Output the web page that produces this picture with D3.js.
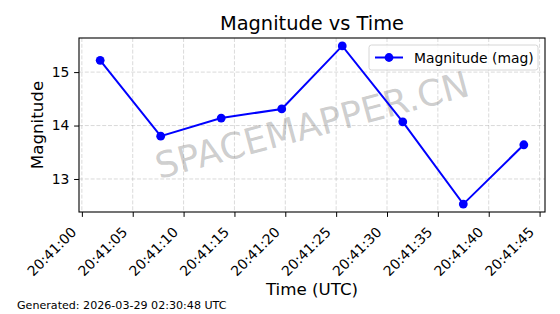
<!DOCTYPE html>
<html>
<head>
<meta charset="utf-8">
<script src="https://cdn.jsdelivr.net/npm/d3@7"></script>
<style>
  html, body { margin: 0; padding: 0; background: #fff; }
  svg { display: block; font-family: 'DejaVu Sans', sans-serif; }
  .grid line { stroke: #b0b0b0; stroke-opacity: 0.6; stroke-width: 0.8; stroke-dasharray: 4,1.8; }
</style>
</head>
<body>
<div id="chart"></div>
<script>
const times = ['20:41:01.800', '20:41:07.750', '20:41:13.700', '20:41:19.650',
  '20:41:25.600', '20:41:31.550', '20:41:37.500', '20:41:43.450']
const magnitudes = [15.22, 13.80, 14.14, 14.31, 15.49, 14.07, 12.53, 13.64]
const yTicks = [13, 14, 15]
const title = 'Magnitude vs Time'
const seriesName = 'Magnitude (mag)'
const generatedText = 'Generated: 2026-03-29 02:30:48 UTC'
const watermark = 'SPACEMAPPER.CN'

const parseTime = d3.utcParse('%H:%M:%S.%L')
const data = times.map((t, i) => ({ t: parseTime(t), v: magnitudes[i] }))

const width = 560
const height = 314
const margin = { top: 38, right: 15, bottom: 102, left: 79 }

// matplotlib-style 5% padding around the data
function padded (ext) {
  const span = ext[1] - ext[0]
  return [+ext[0] - span * 0.05, +ext[1] + span * 0.05]
}

const xExt = padded(d3.extent(data, d => d.t))
const x = d3.scaleUtc()
  .domain([new Date(xExt[0]), new Date(xExt[1])])
  .range([margin.left, width - margin.right])

const y = d3.scaleLinear()
  .domain(padded(d3.extent(data, d => d.v)))
  .range([height - margin.bottom, margin.top])

const xTickVals = x.ticks(d3.utcSecond.every(5))
const fmt = d3.utcFormat('%H:%M:%S')

const svg = d3.select('#chart').append('svg')
  .attr('width', width)
  .attr('height', height)

// grid
const grid = svg.append('g').attr('class', 'grid')
grid.selectAll('.gx').data(xTickVals).join('line')
  .attr('x1', d => x(d)).attr('x2', d => x(d))
  .attr('y1', margin.top).attr('y2', height - margin.bottom)
grid.selectAll('.gy').data(yTicks).join('line')
  .attr('x1', margin.left).attr('x2', width - margin.right)
  .attr('y1', d => y(d)).attr('y2', d => y(d))

// watermark
svg.append('text')
  .attr('transform', `translate(${(margin.left + width - margin.right) / 2},${(margin.top + height - margin.bottom) / 2}) rotate(-15)`)
  .attr('text-anchor', 'middle')
  .attr('dominant-baseline', 'central')
  .attr('font-size', 36)
  .attr('fill', '#808080')
  .attr('fill-opacity', 0.4)
  .text(watermark)

// line + markers
const line = d3.line().x(d => x(d.t)).y(d => y(d.v))
svg.append('path')
  .datum(data)
  .attr('fill', 'none')
  .attr('stroke', '#0000ff')
  .attr('stroke-width', 2)
  .attr('d', line)
svg.selectAll('.pt').data(data).join('circle')
  .attr('cx', d => x(d.t))
  .attr('cy', d => y(d.v))
  .attr('r', 4.4)
  .attr('fill', '#0000ff')

// axes
const xAxis = d3.axisBottom(x)
  .tickValues(xTickVals)
  .tickFormat(fmt)
  .tickSize(4.9)
  .tickSizeOuter(0)
const gx = svg.append('g')
  .attr('transform', `translate(0,${height - margin.bottom})`)
  .call(xAxis)
gx.select('.domain').remove()
gx.selectAll('.tick line').attr('stroke', '#000').attr('stroke-width', 1)
gx.selectAll('.tick text')
  .attr('font-size', 13.9)
  .attr('font-family', 'DejaVu Sans')
  .attr('fill', '#000')
  .attr('text-anchor', 'end')
  .attr('y', 0)
  .attr('dy', 0)
  .attr('transform', 'translate(-5,21) rotate(-45)')

const yAxis = d3.axisLeft(y)
  .tickValues(yTicks)
  .tickFormat(d3.format('d'))
  .tickSize(4.9)
  .tickSizeOuter(0)
const gy = svg.append('g')
  .attr('transform', `translate(${margin.left},0)`)
  .call(yAxis)
gy.select('.domain').remove()
gy.selectAll('.tick line').attr('stroke', '#000').attr('stroke-width', 1)
gy.selectAll('.tick text')
  .attr('font-size', 13.9)
  .attr('font-family', 'DejaVu Sans')
  .attr('fill', '#000')
  .attr('x', -9.7)

// frame
svg.append('rect')
  .attr('x', margin.left)
  .attr('y', margin.top)
  .attr('width', width - margin.left - margin.right)
  .attr('height', height - margin.top - margin.bottom)
  .attr('fill', 'none')
  .attr('stroke', '#000')
  .attr('stroke-width', 1.1)

// legend
const lgW = 169
const lgH = 25
const lgX = width - margin.right - 7 - lgW
const lgY = margin.top + 7
const lg = svg.append('g').attr('transform', `translate(${lgX},${lgY})`)
lg.append('rect')
  .attr('width', lgW).attr('height', lgH)
  .attr('rx', 2.5)
  .attr('fill', '#fff').attr('fill-opacity', 0.8)
  .attr('stroke', '#d6d6d6').attr('stroke-width', 1)
lg.append('line')
  .attr('x1', 6).attr('x2', 34)
  .attr('y1', lgH / 2).attr('y2', lgH / 2)
  .attr('stroke', '#0000ff').attr('stroke-width', 2)
lg.append('circle')
  .attr('cx', 20).attr('cy', lgH / 2).attr('r', 4.4)
  .attr('fill', '#0000ff')
lg.append('text')
  .attr('x', 45).attr('y', lgH / 2 + 5)
  .attr('font-size', 13.9)
  .text(seriesName)

// titles
svg.append('text')
  .attr('x', (margin.left + width - margin.right) / 2)
  .attr('y', 30)
  .attr('text-anchor', 'middle')
  .attr('font-size', 19.4)
  .text(title)

svg.append('text')
  .attr('x', (margin.left + width - margin.right) / 2)
  .attr('y', 295)
  .attr('text-anchor', 'middle')
  .attr('font-size', 16.7)
  .text('Time (UTC)')

svg.append('text')
  .attr('transform', `translate(43,${(margin.top + height - margin.bottom) / 2}) rotate(-90)`)
  .attr('text-anchor', 'middle')
  .attr('font-size', 16.7)
  .text('Magnitude')

svg.append('text')
  .attr('x', 17)
  .attr('y', 309)
  .attr('font-size', 11.1)
  .text(generatedText)
</script>
</body>
</html>
